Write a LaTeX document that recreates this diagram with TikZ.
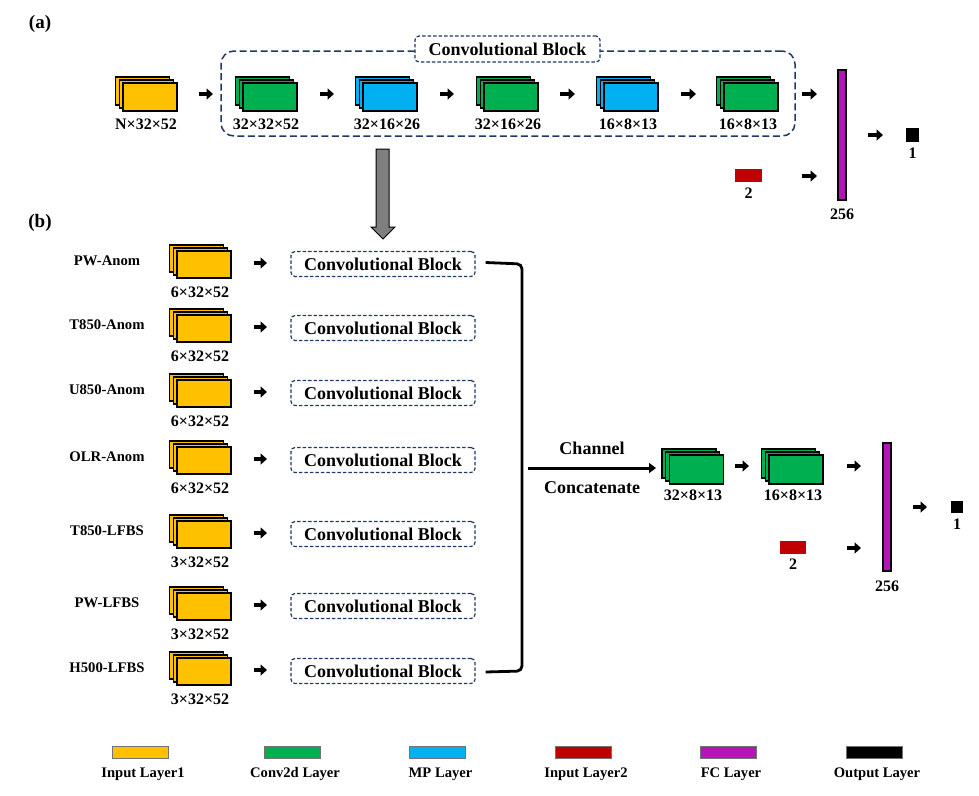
\documentclass[tikz,border=0pt]{standalone}
\usepackage{fontspec}
\setmainfont{Liberation Serif}
\usetikzlibrary{arrows.meta,calc}
\definecolor{cyel}{HTML}{FFC000}
\definecolor{cgrn}{HTML}{00B050}
\definecolor{cblu}{HTML}{00B0F0}
\definecolor{cred}{HTML}{C00000}
\definecolor{cmag}{HTML}{B515B8}
\definecolor{cnavy}{HTML}{203864}
\definecolor{cgray}{HTML}{7F7F7F}

\newcommand\layerstack[5]{% name, cx, cy, colour, height
  \node[lay,fill=#4,minimum height=#5] (#1-b2) at (#2-7.5,#3-6) {};
  \node[lay,fill=#4,minimum height=#5] (#1-b1) at (#2-3.75,#3-3) {};
  \node[lay,fill=#4,minimum height=#5] (#1) at (#2,#3) {};
}
\newcommand\sarr[4]{% name, x1, x2, y
  \coordinate (#1s) at (#2,#4);
  \coordinate (#1e) at (#3,#4);
  \draw[sarrow] (#1s) -- (#1e);
}

\begin{document}
\begin{tikzpicture}[x=1pt,y=-1pt,
  lay/.style={draw=black,line width=1.2pt,minimum width=54pt,inner sep=0pt,rectangle},
  dimtxt/.style={font=\fontsize{16}{18}\selectfont\bfseries,inner sep=0pt},
  rowtxt/.style={font=\fontsize{14.7}{17}\selectfont\bfseries,inner sep=0pt},
  cbtxt/.style={font=\fontsize{18}{20}\selectfont\bfseries,inner sep=0pt},
  cbbox/.style={draw=cnavy,line width=1.2pt,dash pattern=on 3.5pt off 2pt,rounded corners=4pt,
     minimum width=184pt,minimum height=25pt,inner sep=0pt,fill=white,
     font=\fontsize{18}{20}\selectfont\bfseries},
  sarrow/.style={line width=4pt,-{Triangle[length=6.5pt,width=11pt]}},
  leg/.style={draw=black!55,line width=0.6pt,minimum width=56pt,minimum height=12pt,inner sep=0pt},
  legtxt/.style={font=\fontsize{14.6}{16}\selectfont\bfseries,inner sep=0pt},
]
\useasboundingbox (0,0) rectangle (979,795);

% ---------------- (a) ----------------
\node[font=\fontsize{19}{21}\selectfont\bfseries,inner sep=0pt] (la) at (40,24) {(a)};

\node[draw=cnavy,line width=1.5pt,dash pattern=on 7pt off 3.5pt,rounded corners=13pt,
      minimum width=574pt,minimum height=85pt,inner sep=0pt] (blockA) at (508,93.5) {};
\node[cbbox,minimum width=185pt,minimum height=26pt] (titleA) at (507.5,49) {Convolutional Block};

\layerstack{ain}{150}{97}{cyel}{28pt}
\layerstack{ag1}{270}{97}{cgrn}{28pt}
\layerstack{ab1}{390}{97}{cblu}{28pt}
\layerstack{ag2}{511}{97}{cgrn}{28pt}
\layerstack{ab2}{631}{97}{cblu}{28pt}
\layerstack{ag3}{751}{97}{cgrn}{28pt}

\node[dimtxt] (ainl) at (146,124) {N×32×52};
\node[dimtxt] (ag1l) at (266,124) {32×32×52};
\node[dimtxt] (ab1l) at (387,124) {32×16×26};
\node[dimtxt] (ag2l) at (508,124) {32×16×26};
\node[dimtxt] (ab2l) at (628,124) {16×8×13};
\node[dimtxt] (ag3l) at (748,124) {16×8×13};

\sarr{aa1}{199}{213}{94}
\sarr{aa2}{320}{334}{94}
\sarr{aa3}{440}{454}{94}
\sarr{aa4}{560}{575}{94}
\sarr{aa5}{681}{696}{94}
\sarr{aa6}{802}{817}{94}

\node[draw=black,line width=1.2pt,fill=cmag,minimum width=8pt,minimum height=130pt,inner sep=0pt] (afc) at (842,135) {};
\node[dimtxt] (afcl) at (842,214) {256};
\node[fill=cred,minimum width=27pt,minimum height=13pt,inner sep=0pt] (ain2) at (748.5,175.5) {};
\node[dimtxt] (ain2l) at (748.5,193) {2};
\sarr{aa7}{802}{817}{176}
\sarr{aa8}{868}{883}{135}
\node[fill=black,minimum width=13pt,minimum height=14pt,inner sep=0pt] (aout) at (912.5,135) {};
\node[dimtxt] (aoutl) at (912.5,153) {1};

% gray arrow from (a) to (b)
\draw[fill=cgray,draw=black,line width=1pt]
  (376,149) -- (389,149) -- (389,227) -- (395,227) -- (383,239) -- (371,227) -- (376,227) -- cycle;

% ---------------- (b) ----------------
\node[font=\fontsize{19}{21}\selectfont\bfseries,inner sep=0pt] (lb) at (40,223) {(b)};

\foreach \i/\yy/\nm/\dm in {1/264/PW-Anom/6, 2/328/T850-Anom/6, 3/393/U850-Anom/6, 4/460/OLR-Anom/6,
                            5/534/T850-LFBS/3, 6/606/PW-LFBS/3, 7/671/H500-LFBS/3}{
  \node[rowtxt] (rn\i) at (107,\yy-3.5) {\nm};
  \layerstack{bin\i}{204}{\yy+0.5}{cyel}{27pt}
  \node[dimtxt] (bin\i l) at (200,\yy+28) {\dm×32×52};
  \sarr{ba\i}{254}{267}{\yy-1}
  \node[cbbox] (cb\i) at (383,\yy) {Convolutional Block};
}

% concatenation bracket
\coordinate (jt) at (522,264);
\coordinate (jb) at (522,671);
\draw[line width=2.8pt,rounded corners=5pt] ([xshift=10pt,yshift=1.5pt]cb1.east) -- (jt) -- (jb) -- ([xshift=10pt,yshift=-1pt]cb7.east);

\coordinate (chs) at (528,468);
\coordinate (che) at (656,468);
\draw[line width=3pt,-{Triangle[length=7pt,width=10pt]}] (chs) -- (che);
\node[cbtxt] (cht1) at (592,448) {Channel};
\node[cbtxt] (cht2) at (592,488) {Concatenate};

\layerstack{bg1}{696.5}{469.5}{cgrn}{29pt}
\layerstack{bg2}{796}{469.5}{cgrn}{29pt}
\node[dimtxt] (bg1l) at (693,495) {32×8×13};
\node[dimtxt] (bg2l) at (793,495) {16×8×13};
\sarr{bb1}{735}{749}{466}
\sarr{bb2}{847}{861}{466}

\node[draw=black,line width=1.2pt,fill=cmag,minimum width=8pt,minimum height=128pt,inner sep=0pt] (bfc) at (887,507) {};
\node[dimtxt] (bfcl) at (887,586) {256};
\node[fill=cred,minimum width=26pt,minimum height=13pt,inner sep=0pt] (bin2) at (793,547.5) {};
\node[dimtxt] (bin2l) at (793,564) {2};
\sarr{bb3}{847}{861}{548}
\sarr{bb4}{913}{927}{507}
\node[fill=black,minimum width=12pt,minimum height=12pt,inner sep=0pt] (bout) at (957,507) {};
\node[dimtxt] (boutl) at (957,524) {1};

% ---------------- legend ----------------
\foreach \k/\xx/\cc/\tt in {1/140/cyel/Input Layer1, 2/292/cgrn/Conv2d Layer, 3/437.5/cblu/MP Layer,
                            4/583/cred/Input Layer2, 5/728/cmag/FC Layer, 6/874/black/Output Layer}{
  \node[leg,fill=\cc] (lg\k) at (\xx,752) {};
  \node[legtxt] (lgt\k) at (\xx+3,774) {\tt};
}
\end{tikzpicture}
\end{document}
